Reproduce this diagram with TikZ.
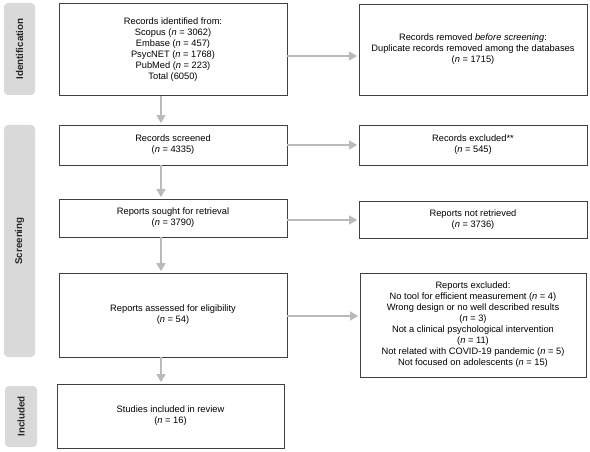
\documentclass[tikz,border=0pt]{standalone}
\usepackage{fontspec}
\setmainfont{Liberation Sans}
\usetikzlibrary{arrows.meta}
\tikzset{
  box/.style={draw=black!75, line width=0.8pt, fill=white, align=center, inner sep=0pt,
    font=\fontsize{9.3}{11}\selectfont},
  phase/.style={fill=black!15, rounded corners=4pt, draw=none, inner sep=0pt},
  phasetext/.style={rotate=90, font=\fontsize{9.8}{10}\selectfont\bfseries, text=black!85},
  flow/.style={draw=black!27, line width=1.5pt, -{Triangle[length=8pt,width=9pt]}, shorten >=1.5pt}
}
\begin{document}
\begin{tikzpicture}[x=1pt,y=-1pt]
\useasboundingbox (0,0) rectangle (590,452);
% phase labels
\node[phase, minimum width=31pt, minimum height=92pt] (pid) at (19.5,49) {};
\node[phasetext] (tid) at (pid.center) {Identification};
\node[phase, minimum width=31pt, minimum height=232pt] (psc) at (19.5,241) {};
\node[phasetext] (tsc) at (psc.center) {Screening};
\node[phase, minimum width=32pt, minimum height=61pt] (pin) at (21,416.5) {};
\node[phasetext] (tin) at (pin.center) {Included};
% left column
\node[box, minimum width=228pt, minimum height=92pt] (b1) at (173,49.5)
  {Records identified from:\\ Scopus (\textit{n} = 3062)\\ Embase (\textit{n} = 457)\\ PsycNET (\textit{n} = 1768)\\ PubMed (\textit{n} = 223)\\ Total (6050)};
\node[box, minimum width=228pt, minimum height=40pt] (b2) at (173,145)
  {Records screened\\ (\textit{n} = 4335)};
\node[box, minimum width=228pt, minimum height=38pt] (b3) at (173,218)
  {Reports sought for retrieval\\ (\textit{n} = 3790)};
\node[box, minimum width=228pt, minimum height=84pt] (b4) at (173,315)
  {Reports assessed for eligibility\\ (\textit{n} = 54)};
\node[box, minimum width=227pt, minimum height=64pt] (b5) at (170.5,416)
  {Studies included in review\\ (\textit{n} = 16)};
% right column
\node[box, minimum width=228pt, minimum height=91pt] (r1) at (473,49.5)
  {Records removed \textit{before screening}:\\ Duplicate records removed among the databases\\ (\textit{n} = 1715)};
\node[box, minimum width=228pt, minimum height=40pt] (r2) at (473,145)
  {Records excluded**\\ (\textit{n} = 545)};
\node[box, minimum width=228pt, minimum height=37pt] (r3) at (473,219.5)
  {Reports not retrieved\\ (\textit{n} = 3736)};
\node[box, minimum width=226pt, minimum height=104pt] (r4) at (473,325)
  {Reports excluded:\\ No tool for efficient measurement (\textit{n} = 4)\\ Wrong design or no well described results\\ (\textit{n} = 3)\\ Not a clinical psychological intervention\\ (\textit{n} = 11)\\ Not related with COVID-19 pandemic (\textit{n} = 5)\\ Not focused on adolescents (\textit{n} = 15)};
% connectors
\draw[flow] (b1.south -| 161,0) -- (b2.north -| 161,0);
\draw[flow] (b2.south -| 161,0) -- (b3.north -| 161,0);
\draw[flow] (b3.south -| 161,0) -- (b4.north -| 161,0);
\draw[flow] (b4.south -| 161,0) -- (b5.north -| 161,0);
\draw[flow] (b1.east |- 0,56) -- (r1.west |- 0,56);
\draw[flow] (b2.east |- 0,145) -- (r2.west |- 0,145);
\draw[flow] (b3.east |- 0,220) -- (r3.west |- 0,220);
\draw[flow] (b4.east |- 0,316) -- (r4.west |- 0,316);
\end{tikzpicture}
\end{document}
